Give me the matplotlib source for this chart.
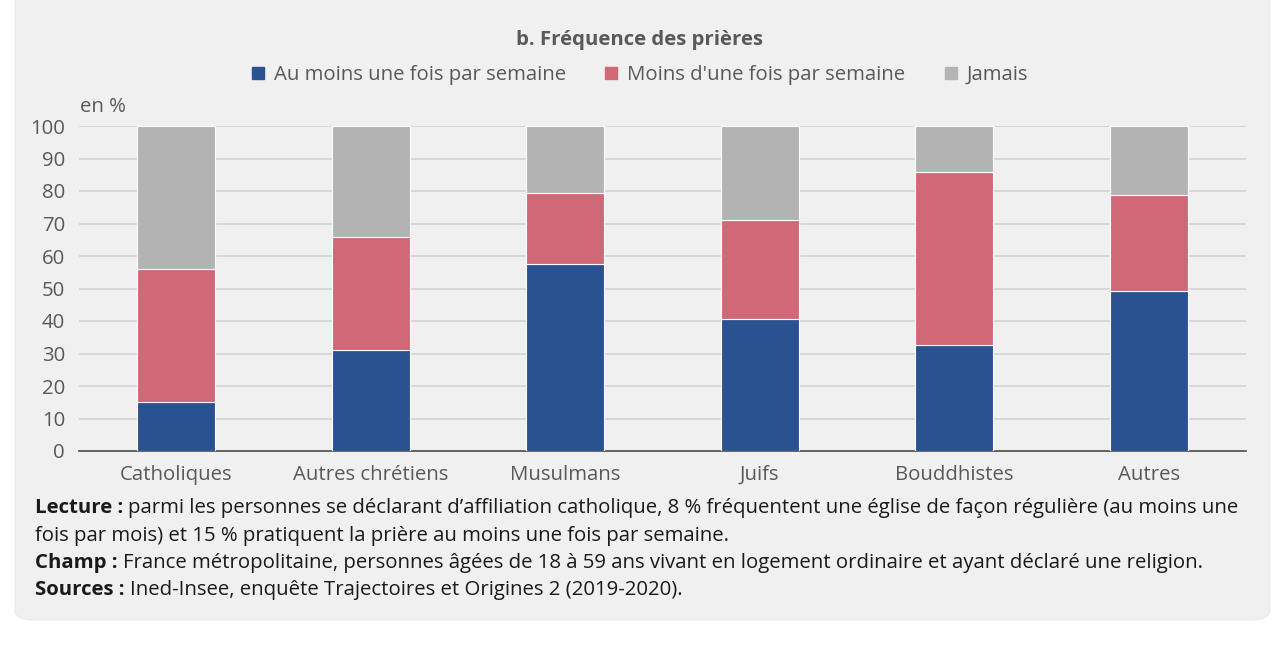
import matplotlib
matplotlib.use("Agg")
import matplotlib.pyplot as plt
from matplotlib.patches import FancyBboxPatch
from matplotlib.lines import Line2D

categories = ["Catholiques", "Autres chrétiens", "Musulmans", "Juifs", "Bouddhistes", "Autres"]
weekly = [15, 31, 57.5, 40.5, 32.6, 49.3]
less = [41, 35, 21.9, 30.5, 53.2, 29.4]
never = [44, 34, 20.6, 29, 14.2, 21.3]
series_names = ["Au moins une fois par semaine", "Moins d'une fois par semaine", "Jamais"]
colors = ["#2a5190", "#d06877", "#b3b3b3"]
yticks = [0, 10, 20, 30, 40, 50, 60, 70, 80, 90, 100]

plt.rcParams['font.family'] = ['Open Sans', 'DejaVu Sans']
FS = 14.7

W, H = 1283, 654
fig = plt.figure(figsize=(W / 100, H / 100), dpi=100)
fig.patch.set_facecolor("white")

bg = FancyBboxPatch((15 / W, 34 / H), 1255 / W, 660 / H,
                    boxstyle="round,pad=0,rounding_size=0.015",
                    transform=fig.transFigure, facecolor="#f0f0f0",
                    edgecolor="#eaeaea", linewidth=0.8, zorder=-5)
fig.patches.append(bg)

ax = fig.add_axes([79 / W, 1 - 451 / H, 1167 / W, 325 / H])
ax.set_zorder(2)
ax.set_facecolor("none")
x = range(len(categories))
bottom1 = weekly
bottom2 = [a + b for a, b in zip(weekly, less)]
bw = 0.40
ax.bar(x, weekly, width=bw, color=colors[0], edgecolor="white", linewidth=0.8, zorder=3)
ax.bar(x, less, width=bw, bottom=bottom1, color=colors[1], edgecolor="white", linewidth=0.8, zorder=3)
ax.bar(x, never, width=bw, bottom=bottom2, color=colors[2], edgecolor="white", linewidth=0.8, zorder=3)

ax.set_xlim(-0.5, len(categories) - 0.5)
ax.set_ylim(0, 100)
ax.set_yticks(yticks)
ax.set_xticks(list(x))
ax.set_xticklabels(categories)
ax.yaxis.grid(True, color="#d0d0d0", linewidth=1.1, zorder=0)
ax.set_axisbelow(True)
for s in ["top", "right", "left"]:
    ax.spines[s].set_visible(False)
ax.spines["bottom"].set_color("#595959")
ax.spines["bottom"].set_linewidth(1.3)
ax.tick_params(axis="both", length=0, labelsize=FS, colors="#595959", pad=10)
ax.tick_params(axis="x", pad=10)

fig.text(80 / W, 1 - 107 / H, "en %", fontsize=FS, color="#595959", va="center", ha="left")
fig.text(640 / W, 1 - 40 / H, "b. Fréquence des prières", fontsize=FS, fontweight="bold",
         color="#595959", ha="center", va="center")

handles = [Line2D([0], [0], marker="s", linestyle="none", markersize=8,
                  markerfacecolor=c, markeredgecolor=c) for c in colors]
fig.legend(handles, series_names, loc="center", bbox_to_anchor=(640 / W, 1 - 75 / H),
           ncol=3, frameon=False, fontsize=FS, labelcolor="#595959",
           handlelength=0.6, handletextpad=0.5, columnspacing=1.9)

notes = [
    ("Lecture : ", "parmi les personnes se déclarant d’affiliation catholique, 8 % fréquentent une église de façon régulière (au moins une"),
    ("", "fois par mois) et 15 % pratiquent la prière au moins une fois par semaine."),
    ("Champ : ", "France métropolitaine, personnes âgées de 18 à 59 ans vivant en logement ordinaire et ayant déclaré une religion."),
    ("Sources : ", "Ined-Insee, enquête Trajectoires et Origines 2 (2019-2020)."),
]
ys = [508, 536, 563, 590]
fig.canvas.draw()
r = fig.canvas.get_renderer()
for (b, t), y in zip(notes, ys):
    x0 = 35 / W
    if b:
        tb = fig.text(x0, 1 - y / H, b, fontsize=FS, fontweight="bold", color="#1a1a1a",
                      va="center", ha="left")
        ext = tb.get_window_extent(renderer=r)
        x0 = ext.x1 / W
    fig.text(x0, 1 - y / H, t, fontsize=FS, color="#1a1a1a", va="center", ha="left")

fig.savefig("out.png", dpi=100, facecolor="white")
